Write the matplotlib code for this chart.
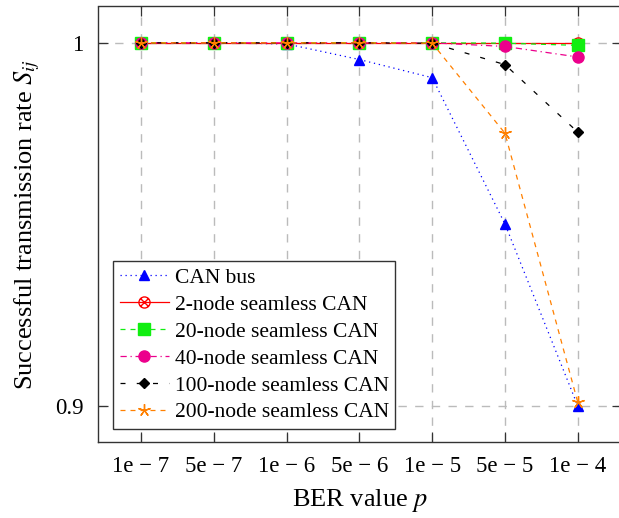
import matplotlib
matplotlib.use("Agg")
import matplotlib.pyplot as plt
from matplotlib.path import Path
import numpy as np

plt.rcParams['font.family'] = ['Liberation Serif', 'DejaVu Serif']
plt.rcParams['mathtext.fontset'] = 'stix'

# ---- data ----
ber_labels = ["1e \u2212 7", "5e \u2212 7", "1e \u2212 6", "5e \u2212 6",
              "1e \u2212 5", "5e \u2212 5", "1e \u2212 4"]
can_bus   = [1.0, 1.0, 0.9997, 0.9954, 0.9904, 0.9501, 0.9000]
node2     = [1.0, 1.0, 1.0, 1.0, 1.0, 1.0, 1.0]
node20    = [1.0, 1.0, 1.0, 1.0, 1.0, 0.9999, 0.9993]
node40    = [1.0, 1.0, 1.0, 1.0, 1.0, 0.9990, 0.9961]
node100   = [1.0, 1.0, 1.0, 1.0, 0.9999, 0.9940, 0.9754]
node200   = [1.0, 1.0, 1.0, 1.0, 0.9999, 0.9751, 0.9010]
series_names = ["CAN bus", "2-node seamless CAN", "20-node seamless CAN",
                "40-node seamless CAN", "100-node seamless CAN", "200-node seamless CAN"]

# otimes marker
circ = Path.unit_circle()
d = 0.7071
cross = Path([(-d, -d), (d, d), (-d, d), (d, -d)],
             [Path.MOVETO, Path.LINETO, Path.MOVETO, Path.LINETO])
otimes = Path.make_compound_path(circ, cross)

fig = plt.figure(figsize=(6.19, 5.18), dpi=100)
L, R, B, T = 97.5, 622.0, 442.0, 6.5
W, H = 619.0, 518.0
ax = fig.add_axes([L / W, 1 - B / H, (R - L) / W, (B - T) / H])

x = np.arange(len(ber_labels))
lw = 0.9
ax.plot(x, can_bus, color='#0000ff', linestyle=(0, (1, 3)), lw=lw,
        marker='^', ms=7, label=series_names[0])
ax.plot(x, node2, color='#ff0000', linestyle='-', lw=lw,
        marker=otimes, ms=8, mfc='none', mew=1.0, label=series_names[1])
ax.plot(x, node20, color='#11ee11', linestyle=(0, (4, 4)), lw=lw,
        marker='s', ms=8, label=series_names[2])
ax.plot(x, node40, color='#ec008c', linestyle=(0, (5, 3, 1, 3)), lw=lw,
        marker='o', ms=8, label=series_names[3])
ax.plot(x, node100, color='black', linestyle=(0, (4, 9)), lw=lw,
        marker='D', ms=5.5, label=series_names[4])
ax.plot(x, node200, color='#ff8000', linestyle=(0, (4, 4)), lw=lw,
        marker=(5, 2, 0), ms=9, mew=1.0, label=series_names[5])

x0 = -(141 - L) / 72.8
x1 = (R - 141) / 72.8
ax.set_xlim(x0, x1)
ax.set_ylim(0.8901, 1.0100)
ax.set_xticks(x)
ax.set_xticklabels(ber_labels)
ax.set_yticks([0.9, 1.0])
ax.set_yticklabels(["0.9", "1"])

ax.grid(True, color='#bbbbbb', linestyle=(0, (6, 6)), lw=1.0)
ax.set_axisbelow(True)
for s in ax.spines.values():
    s.set_color('#333333')
    s.set_linewidth(1.0)
ax.tick_params(direction='in', length=7, width=0.9, color='#333333',
               top=True, right=True, labelsize=16.5, pad=10)

ax.set_xlabel(r"BER value $p$", fontsize=19, labelpad=7)
ax.set_ylabel(r"Successful transmission rate $S_{ij}$", fontsize=19, labelpad=9)

leg = ax.legend(loc='lower left', bbox_to_anchor=(0.03, 0.03), borderaxespad=0,
                fontsize=15.5, fancybox=False, framealpha=1, edgecolor='#333333',
                handlelength=2.3, handletextpad=0.25, labelspacing=0.32,
                borderpad=0.3)
leg.get_frame().set_linewidth(1.0)

fig.savefig("out.png", dpi=100)
